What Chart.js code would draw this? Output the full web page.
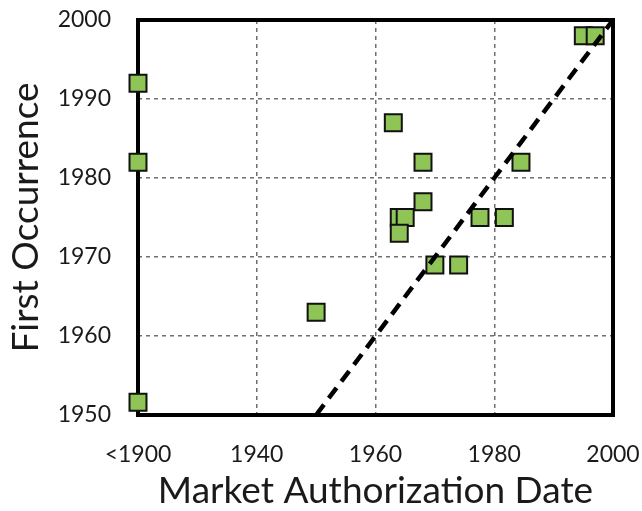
<!DOCTYPE html>
<html>
<head>
<meta charset="utf-8">
<script src="https://cdn.jsdelivr.net/npm/chart.js@4.4.1/dist/chart.umd.min.js"></script>
<style>
  html, body { margin: 0; padding: 0; background: #ffffff; }
  #wrap { width: 642px; height: 511px; }
</style>
</head>
<body>
<div id="wrap"><canvas id="c" width="642" height="511"></canvas></div>
<script>
// Market authorization year vs. year of first occurrence.
// Authorizations before 1900 are plotted at the "<1900" position (1920).
const authorizationYear = [1920, 1920, 1920, 1950, 1963, 1964, 1965, 1964, 1968, 1968, 1970, 1974, 1977.6, 1981.7, 1984.5, 1995, 1997];
const firstOccurrence   = [1992, 1982, 1951.6, 1963, 1987, 1975, 1975, 1973, 1982, 1977, 1969, 1969, 1975, 1975, 1982, 1998, 1998];

// Reference line where first occurrence equals authorization year
const identityX = [1950, 2000];
const identityY = [1950, 2000];

const xTickValues = [1920, 1940, 1960, 1980, 2000];
const xTickLabels = ['<1900', '1940', '1960', '1980', '2000'];
const yTickValues = [1950, 1960, 1970, 1980, 1990, 2000];

const FONT = 'Lato, "Open Sans", "DejaVu Sans", sans-serif';

const points = authorizationYear.map((x, i) => ({ x, y: firstOccurrence[i] }));
const identity = identityX.map((x, i) => ({ x, y: identityY[i] }));

// Thick black frame around the plot area, drawn underneath the markers
const framePlugin = {
  id: 'frame',
  beforeDatasetsDraw(chart) {
    const { ctx, chartArea: a } = chart;
    ctx.save();
    ctx.strokeStyle = '#000000';
    ctx.lineWidth = 4;
    ctx.lineJoin = 'miter';
    ctx.setLineDash([]);
    ctx.strokeRect(a.left, a.top, a.right - a.left, a.bottom - a.top);
    ctx.restore();
  }
};

const gridColor = (edgeValues) => (c) =>
  (c.tick && edgeValues.includes(c.tick.value)) ? 'rgba(0,0,0,0)' : '#6f6f6f';

new Chart(document.getElementById('c'), {
  type: 'scatter',
  data: {
    datasets: [
      {
        type: 'line',
        label: 'identity',
        data: identity,
        borderColor: '#000000',
        borderWidth: 4.5,
        borderDash: [13, 8],
        pointRadius: 0,
        fill: false,
        clip: false
      },
      {
        label: 'drugs',
        data: points,
        pointStyle: 'rect',
        pointRadius: 12,
        pointHoverRadius: 12,
        backgroundColor: '#8fc556',
        borderColor: '#111111',
        borderWidth: 2,
        clip: false
      }
    ]
  },
  options: {
    responsive: false,
    animation: false,
    devicePixelRatio: 1,
    layout: { padding: { left: 0, right: 29, top: 20, bottom: 0 } },
    plugins: {
      legend: { display: false },
      tooltip: { enabled: false }
    },
    scales: {
      x: {
        type: 'linear',
        min: 1920,
        max: 2000,
        afterBuildTicks: (s) => { s.ticks = xTickValues.map(v => ({ value: v })); },
        afterFit: (s) => { s.height = 96; s.paddingLeft = 0; s.paddingRight = 0; },
        ticks: {
          autoSkip: false,
          maxRotation: 0,
          padding: 26,
          color: '#1a1a1a',
          font: { family: FONT, size: 23 },
          callback: (v) => xTickLabels[xTickValues.indexOf(v)]
        },
        grid: {
          drawTicks: false,
          lineWidth: 1.5,
          color: gridColor([1920, 2000])
        },
        border: { display: false, dash: [4, 4] },
        title: {
          display: true,
          text: 'Market Authorization Date',
          color: '#1a1a1a',
          font: { family: FONT, size: 37, lineHeight: 1 },
          padding: { top: 0, bottom: 1 }
        }
      },
      y: {
        type: 'linear',
        min: 1950,
        max: 2000,
        afterBuildTicks: (s) => { s.ticks = yTickValues.map(v => ({ value: v })); },
        afterFit: (s) => { s.width = 138; s.paddingTop = 0; s.paddingBottom = 0; },
        ticks: {
          padding: 27,
          color: '#1a1a1a',
          font: { family: FONT, size: 23 },
          callback: (v) => String(v)
        },
        grid: {
          drawTicks: false,
          lineWidth: 1.5,
          color: gridColor([1950, 2000])
        },
        border: { display: false, dash: [4, 4] },
        title: {
          display: true,
          text: 'First Occurrence',
          color: '#1a1a1a',
          font: { family: FONT, size: 37, lineHeight: 1 },
          padding: { top: 8, bottom: 0 }
        }
      }
    }
  },
  plugins: [framePlugin]
});
</script>
</body>
</html>
